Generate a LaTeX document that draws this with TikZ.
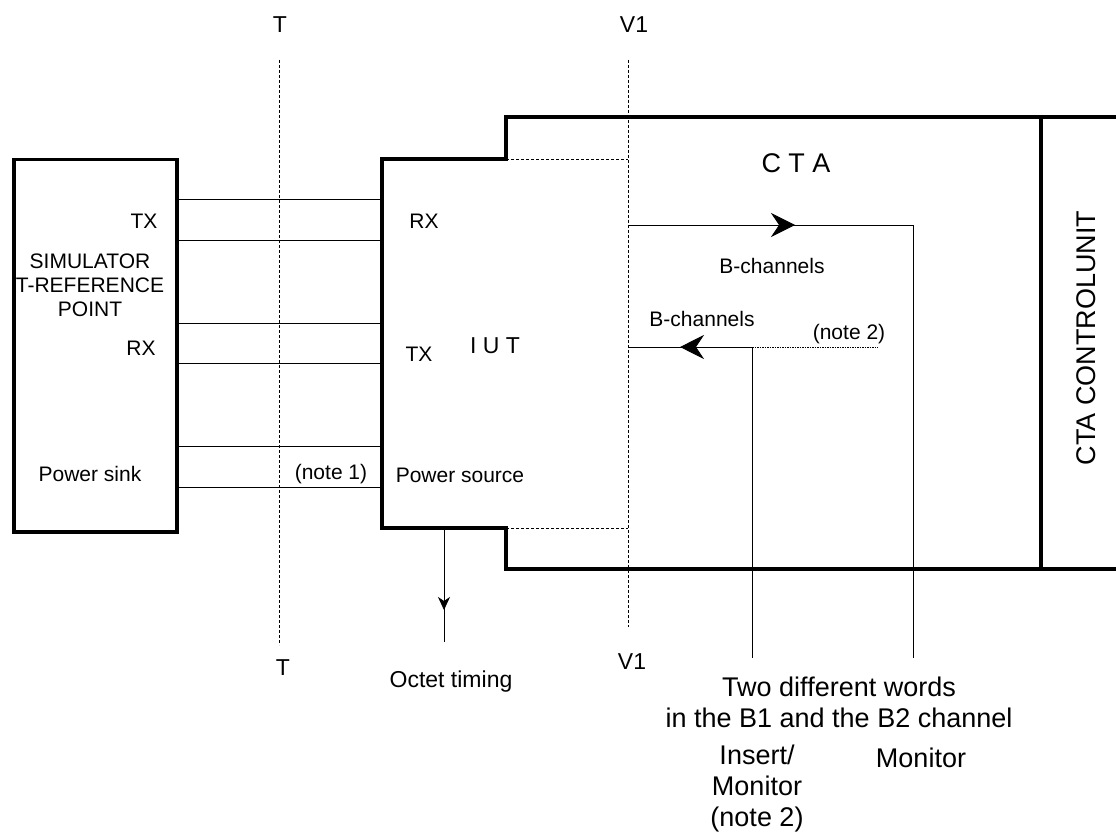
\documentclass[tikz,border=0pt]{standalone}
\usepackage{fontspec}
\setmainfont{Liberation Sans}
\usetikzlibrary{arrows.meta}
\begin{document}
\begin{tikzpicture}[x=1pt,y=-1pt,
  heavy/.style={line width=3.5pt, line join=miter},
  wire/.style={line width=0.8pt},
  refline/.style={line width=0.7pt, dash pattern=on 3pt off 2pt},
  lbl/.style={font=\fontsize{21}{24}\selectfont, inner sep=0pt, align=center},
  mid/.style={font=\fontsize{23}{27}\selectfont, inner sep=0pt, align=center},
  big/.style={font=\fontsize{27}{31}\selectfont, inner sep=0pt, align=center},
  bigtip/.style={-{Stealth[length=24pt,width=24pt,inset=8pt]}},
  smalltip/.style={-{Stealth[length=13pt,width=12pt,inset=4pt]}}]
\useasboundingbox (0,0) rectangle (1116,834);

% simulator box
\node[draw, heavy, minimum width=163pt, minimum height=372pt, inner sep=0pt, anchor=north west] (sim) at (12,158) {};

% IUT / CTA outline
\coordinate (o1) at (382,528);
\coordinate (o2) at (382,159);
\coordinate (o3) at (506,159);
\coordinate (o4) at (506,117);
\coordinate (o5) at (1116,117);
\coordinate (o6) at (506,528);
\coordinate (o7) at (506,569);
\coordinate (o8) at (1116,569);
\draw[heavy] (o5) -- (o4) -- (o3) -- (o2) -- (o1) -- (o6) -- (o7) -- (o8);
\coordinate (cu1) at (1041,117);
\coordinate (cu2) at (1041,569);
\draw[heavy] (cu1) -- (cu2);

% reference lines
\coordinate (Ta) at (279,60);
\coordinate (Tb) at (279,645);
\coordinate (Va) at (628,60);
\coordinate (Vb) at (628,627);
\draw[refline] (Ta) -- (Tb);
\draw[refline] (Va) -- (Vb);
\draw[refline] (o3) -- (Va |- o3);
\draw[refline] (o6) -- (Va |- o6);

% wires between simulator and IUT
\foreach \y/\n in {199/1,240/2,323/3,363/4,446/5,487/6}{
  \coordinate (w\n) at (382,\y);
  \draw[wire] (sim.east |- w\n) -- (w\n);
}

% B-channel paths
\coordinate (b1s) at (628,225);
\coordinate (b1m) at (795,225);
\coordinate (b1c) at (913,225);
\coordinate (b1e) at (913,658);
\draw[wire] (b1s) -- (b1c) -- (b1e);
\draw[wire, bigtip] (b1s) -- (b1m);

\coordinate (b2s) at (628,347);
\coordinate (b2m) at (680,347);
\coordinate (b2c) at (752,347);
\coordinate (b2d) at (878,347);
\coordinate (b2e) at (752,658);
\draw[wire] (b2s) -- (b2c) -- (b2e);
\draw[wire, bigtip] (b2c) -- (b2m);
\draw[line width=0.8pt, dash pattern=on 1.5pt off 1pt] (b2c) -- (b2d);

% octet timing
\coordinate (oc1) at (444,528);
\coordinate (oc2) at (444,610);
\coordinate (oc3) at (444,642);
\draw[wire] (oc1) -- (oc3);
\draw[wire, smalltip] (oc1) -- (oc2);

% labels
\node[lbl] (simtx) at (144,221) {TX};
\node[lbl] (simname) at (90,285) {SIMULATOR\\T-REFERENCE\\POINT};
\node[lbl] (simrx) at (141,348) {RX};
\node[lbl] (sink) at (90,474) {Power sink};
\node[lbl] (note1) at (331,474) {(note 1)};
\node[lbl] (iutrx) at (424,221) {RX};
\node[lbl] (iuttx) at (419,354) {TX};
\node[mid] (iut) at (495,346) {I U T};
\node[lbl] (psrc) at (460,475) {Power source};
\node[big] (cta) at (796,163) {C T A};
\node[lbl] (bch1) at (772,266) {B-channels};
\node[lbl] (bch2) at (702,319) {B-channels};
\node[lbl] (note2a) at (849,334) {(note 2)};
\node[big, rotate=90] (ctacu) at (1086,338) {CTA CONTROLUNIT};
\node[mid] (Ttop) at (280,25) {T};
\node[mid] (V1top) at (634,25) {V1};
\node[mid] (Tbot) at (283,668) {T};
\node[mid] (V1bot) at (632,662) {V1};
\node[mid] (octet) at (451,682) {Octet timing};
\node[big] (two) at (839,687) {Two different words};
\node[big] (inthe) at (839,718) {in the B1 and the B2 channel};
\node[big] (insert) at (757,789) {Insert/\\Monitor\\(note 2)};
\node[big] (mon) at (921,758) {Monitor};
\end{tikzpicture}
\end{document}
